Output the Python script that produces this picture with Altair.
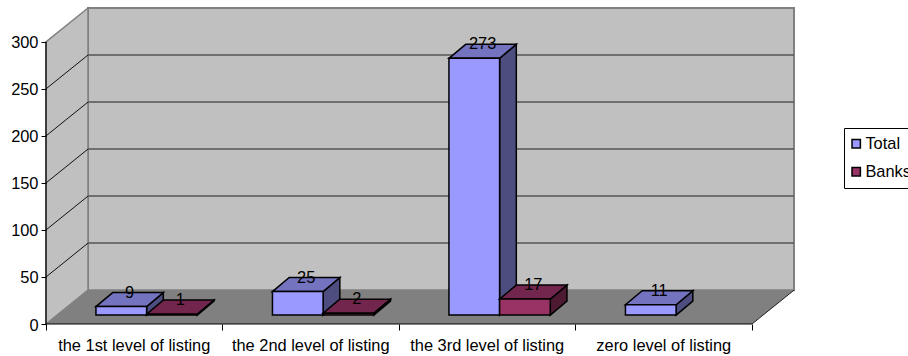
import altair as alt
import pandas as pd

categories = ["the 1st level of listing", "the 2nd level of listing",
              "the 3rd level of listing", "zero level of listing"]
total = [9, 25, 273, 11]
banks = [1, 2, 17, None]
y_ticks = [0, 50, 100, 150, 200, 250, 300]

FONT = "Liberation Sans"
FS = 16.4

# Oblique projection expressed in axis units
WALL_DX, WALL_DY = 0.238, 36.0     # depth of the floor and side wall
BAR_DX, BAR_DY = 0.0947, 14.9      # depth of one bar
BAR_BASE = 9.5                     # lift of a bar's front face above the axis
BAR_START, BAR_W = 0.283, 0.287    # first bar within a category, bar width
TOP = 300 + WALL_DY
RIGHT = len(categories) + WALL_DX

X_SCALE = alt.Scale(domain=[0, RIGHT], nice=False, zero=False)
Y_SCALE = alt.Scale(domain=[0, TOP], nice=False)
COLOR_SCALE = alt.Scale(domain=["Total", "Banks"], range=["#9999ff", "#993366"])


def X(field="x", **kw):
    return alt.X(f"{field}:Q", scale=X_SCALE, axis=None, stack=None, **kw)


def Y(field="y", **kw):
    return alt.Y(f"{field}:Q", scale=Y_SCALE, axis=None, stack=None, **kw)


# Wall, floor and grid -------------------------------------------------------
back_wall = alt.Chart(pd.DataFrame([{"x": WALL_DX, "x2": RIGHT, "y": WALL_DY, "y2": TOP}])).mark_rect(
    fill="#c0c0c0", stroke="#808080", strokeWidth=2
).encode(x=X(), x2="x2:Q", y=Y(), y2="y2:Q")

left_wall = alt.Chart(pd.DataFrame([
    {"x": 0, "y": 0, "y2": 300},
    {"x": WALL_DX, "y": WALL_DY, "y2": TOP},
])).mark_area(orient="vertical", fill="#c0c0c0", stroke="#808080", strokeWidth=1.5).encode(
    x=X(), y=Y(), y2="y2:Q"
)

floor = alt.Chart(pd.DataFrame([
    {"y": 0, "x": 0, "x2": len(categories)},
    {"y": WALL_DY, "x": WALL_DX, "x2": RIGHT},
])).mark_area(orient="horizontal", fill="#808080").encode(
    y=Y(), x=X(), x2="x2:Q"
)

grid_values = [v for v in y_ticks if v > 0]
back_grid = alt.Chart(pd.DataFrame([
    {"v": v, "x": px, "y": v + WALL_DY} for v in grid_values[:-1] for px in (WALL_DX, RIGHT)
])).mark_line(color="#555555", strokeWidth=1.5).encode(x=X(), y=Y(), detail="v:N")

side_grid = alt.Chart(pd.DataFrame([
    {"v": v, "x": px, "y": v + dy} for v in grid_values[:-1] for px, dy in ((0, 0), (WALL_DX, WALL_DY))
])).mark_line(color="#111111", strokeWidth=1).encode(x=X(), y=Y(), detail="v:N")

floor_edge = alt.Chart(pd.DataFrame([
    {"x": len(categories), "y": 0},
    {"x": RIGHT, "y": WALL_DY},
])).mark_line(color="#222222", strokeWidth=1).encode(x=X(), y=Y())

y_axis_line = alt.Chart(pd.DataFrame([{"x": 0, "y": 0}, {"x": 0, "y": 300}])).mark_line(
    color="black", strokeWidth=1.2
).encode(x=X(), y=Y())

axes = alt.Chart(pd.DataFrame([{"x": 0, "y": 0}])).mark_point(opacity=0).encode(
    x=alt.X("x:Q", scale=X_SCALE, axis=alt.Axis(
        values=list(range(len(categories) + 1)), labels=False, title=None, grid=False,
        domain=False, tickColor="black", tickSize=6, tickWidth=1, zindex=1)),
    y=alt.Y("y:Q", scale=Y_SCALE, axis=alt.Axis(
        values=y_ticks, title=None, grid=False, domain=False, tickColor="black", tickSize=5,
        tickWidth=1, labelFont=FONT, labelFontSize=FS, labelColor="black", labelPadding=3,
        labelOffset=1, zindex=1)),
)

x_axis_line = alt.Chart(pd.DataFrame([{"x": 0, "y": 0}, {"x": len(categories), "y": 0}])).mark_line(
    color="black", strokeWidth=1.2
).encode(x=X(), y=Y())

category_labels = alt.Chart(pd.DataFrame({
    "x": [i + 0.5 for i in range(len(categories))], "y": [0] * len(categories), "label": categories,
})).mark_text(font=FONT, fontSize=FS, color="black", baseline="middle", dy=22).encode(
    x=X(), y=Y(), text="label:N"
)


# Bars -----------------------------------------------------------------------
def bar_layers(series, values, index, top_color, side_color):
    side, top, front, labels = [], [], [], []
    for i, value in enumerate(values):
        if value is None:
            continue
        x0 = i + BAR_START + index * BAR_W
        x1 = x0 + BAR_W
        h = BAR_BASE + value
        side += [
            {"id": i, "x": x1, "y": BAR_BASE, "y2": h},
            {"id": i, "x": x1 + BAR_DX, "y": BAR_BASE + BAR_DY, "y2": h + BAR_DY},
        ]
        top += [
            {"id": i, "y": h, "x": x0, "x2": x1},
            {"id": i, "y": h + BAR_DY, "x": x0 + BAR_DX, "x2": x1 + BAR_DX},
        ]
        front.append({"x": x0, "x2": x1, "y": BAR_BASE, "y2": h, "series": series})
        labels.append({"x": (x0 + x1 + BAR_DX) / 2, "y": h + BAR_DY, "label": str(value)})
    style = dict(stroke="black", strokeWidth=1.5, strokeJoin="miter")
    return [
        alt.Chart(pd.DataFrame(side)).mark_area(orient="vertical", fill=side_color, **style).encode(
            x=X(), y=Y(), y2="y2:Q", detail="id:N"),
        alt.Chart(pd.DataFrame(top)).mark_area(orient="horizontal", fill=top_color, **style).encode(
            y=Y(), x=X(), x2="x2:Q", detail="id:N"),
        alt.Chart(pd.DataFrame(front)).mark_rect(**style).encode(
            x=X(), x2="x2:Q", y=Y(), y2="y2:Q",
            color=alt.Color("series:N", scale=COLOR_SCALE, legend=alt.Legend(
                orient="none", legendX=798, legendY=120, title=None,
                fillColor="white", strokeColor="black", padding=7.5,
                symbolType="square", symbolSize=70, symbolStrokeColor="black", symbolStrokeWidth=1.5,
                symbolOffset=-3.5, labelFont=FONT, labelFontSize=FS, labelColor="black",
                labelOffset=1, rowPadding=11, values=["Total", "Banks"]))),
    ], alt.Chart(pd.DataFrame(labels)).mark_text(
        font=FONT, fontSize=FS, color="black", baseline="middle").encode(x=X(), y=Y(), text="label:N")


total_marks, total_labels = bar_layers("Total", total, 0, "#7373bf", "#4d4d80")
banks_marks, banks_labels = bar_layers("Banks", banks, 1, "#73264d", "#4d1933")

chart = alt.layer(
    back_wall, left_wall, floor, back_grid, side_grid, floor_edge,
    axes, y_axis_line, x_axis_line, category_labels,
    *total_marks, *banks_marks, total_labels, banks_labels,
).resolve_axis(x="independent", y="independent").properties(
    width=748, height=316,
    padding={"left": 46, "top": 8, "right": 114, "bottom": 32},
    autosize=alt.AutoSizeParams(type="none"),
    background="white",
).configure_view(stroke=None)

chart.save("out.html", embed_options={"renderer": "svg", "actions": False})
